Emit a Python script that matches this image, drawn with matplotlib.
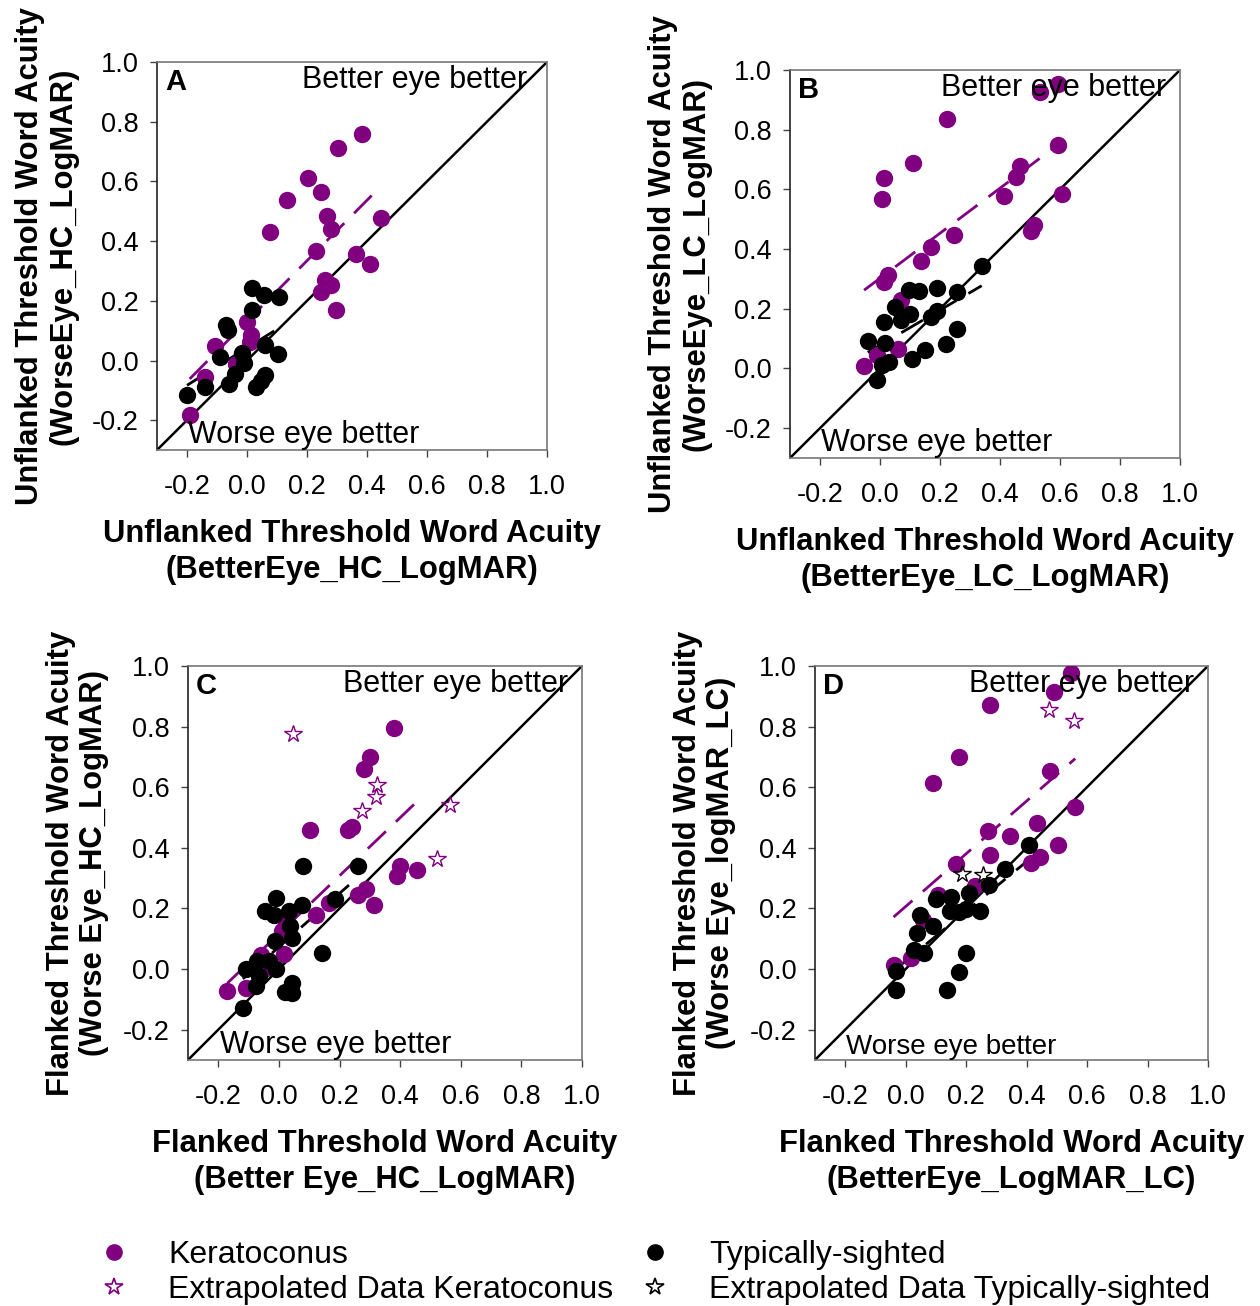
import numpy as np
import matplotlib.pyplot as plt
from matplotlib.lines import Line2D

plt.rcParams['font.family'] = ['Liberation Sans', 'DejaVu Sans']

PURPLE = '#800080'

# ---- Panel A: unflanked, high contrast ----
a_kc_x = [0.383, 0.303, 0.203, 0.248, 0.134, 0.266, 0.279, 0.448, 0.077, 0.230, 0.364,
          0.410, 0.259, 0.279, 0.248, 0.298, 0.001, 0.014, -0.106, 0.009, -0.036, -0.141, -0.191]
a_kc_y = [0.758, 0.713, 0.611, 0.563, 0.537, 0.483, 0.442, 0.476, 0.429, 0.367, 0.356,
          0.324, 0.269, 0.254, 0.231, 0.170, 0.128, 0.086, 0.050, 0.061, -0.011, -0.056, -0.181]
a_ts_x = [0.018, 0.057, 0.106, 0.018, -0.069, -0.063, 0.059, 0.103, -0.089, -0.017, -0.010,
          -0.039, -0.061, 0.059, 0.046, 0.029, -0.139, -0.200]
a_ts_y = [0.244, 0.220, 0.213, 0.170, 0.120, 0.102, 0.053, 0.022, 0.013, 0.026, -0.008,
          -0.044, -0.078, -0.048, -0.070, -0.089, -0.089, -0.117]

# ---- Panel B: unflanked, low contrast ----
b_kc_x = [0.592, 0.533, 0.224, 0.592, 0.111, 0.467, 0.014, 0.453, 0.008, 0.414, 0.606,
          0.514, 0.502, 0.248, 0.169, 0.137, 0.028, 0.014, 0.070, 0.061, -0.011, -0.053]
b_kc_y = [0.953, 0.926, 0.837, 0.748, 0.687, 0.680, 0.637, 0.642, 0.567, 0.579, 0.583,
          0.481, 0.459, 0.448, 0.406, 0.359, 0.312, 0.290, 0.231, 0.064, 0.046, 0.009]
b_ts_x = [0.339, 0.097, 0.130, 0.189, 0.258, 0.050, 0.100, 0.070, 0.014, 0.169, 0.189,
          0.258, 0.219, 0.150, 0.106, -0.041, 0.017, 0.031, 0.008, -0.011]
b_ts_y = [0.342, 0.262, 0.259, 0.270, 0.257, 0.206, 0.183, 0.161, 0.156, 0.172, 0.192,
          0.131, 0.081, 0.062, 0.033, 0.092, 0.084, 0.022, 0.011, -0.039]

# ---- Panel C: flanked, high contrast ----
c_kc_x = [0.379, 0.300, 0.280, 0.104, 0.227, 0.242, 0.401, 0.454, 0.390, 0.286, 0.262,
          0.313, 0.165, 0.121, 0.022, 0.011, 0.016, -0.060, -0.044, -0.110, -0.170]
c_kc_y = [0.795, 0.699, 0.660, 0.459, 0.459, 0.470, 0.341, 0.327, 0.308, 0.265, 0.245,
          0.212, 0.218, 0.179, 0.152, 0.124, 0.049, 0.047, 0.003, -0.063, -0.071]
c_kc_ex_x = [0.047, 0.324, 0.321, 0.273, 0.566, 0.522]
c_kc_ex_y = [0.776, 0.608, 0.567, 0.520, 0.542, 0.363]
c_ts_x = [0.080, 0.262, -0.011, 0.185, 0.077, -0.047, -0.016, 0.033, 0.038, 0.042, -0.013,
          0.141, -0.071, -0.033, -0.009, -0.108, -0.066, -0.077, 0.042, 0.020, 0.044, -0.119]
c_ts_y = [0.341, 0.341, 0.234, 0.231, 0.212, 0.190, 0.179, 0.193, 0.141, 0.102, 0.093,
          0.053, 0.025, 0.025, 0.000, 0.000, -0.024, -0.057, -0.046, -0.077, -0.079, -0.129]

# ---- Panel D: flanked, low contrast ----
d_kc_x = [0.547, 0.492, 0.279, 0.178, 0.091, 0.476, 0.561, 0.433, 0.274, 0.346, 0.504,
          0.279, 0.444, 0.414, 0.165, 0.107, 0.230, 0.058, 0.018, -0.040]
d_kc_y = [0.978, 0.915, 0.871, 0.698, 0.613, 0.652, 0.534, 0.481, 0.454, 0.440, 0.408,
          0.377, 0.369, 0.349, 0.347, 0.245, 0.273, 0.163, 0.038, 0.014]
d_kc_ex_x = [0.474, 0.556]
d_kc_ex_y = [0.855, 0.819]
d_ts_x = [0.408, 0.329, 0.277, 0.209, 0.151, 0.099, 0.246, 0.146, 0.176, 0.200, 0.047,
          0.089, 0.038, 0.029, 0.061, 0.198, -0.032, 0.178, -0.032, 0.138]
d_ts_y = [0.410, 0.330, 0.276, 0.251, 0.237, 0.231, 0.190, 0.190, 0.188, 0.198, 0.179,
          0.141, 0.119, 0.064, 0.053, 0.053, -0.008, -0.010, -0.070, -0.068]
d_ts_ex_x = [0.186, 0.257]
d_ts_ex_y = [0.314, 0.311]

ticks = [-0.2, 0.0, 0.2, 0.4, 0.6, 0.8, 1.0]
tick_labels = ['-0.2', '0.0', '0.2', '0.4', '0.6', '0.8', '1.0']

fig = plt.figure(figsize=(12.6, 13.06), dpi=100)


def fit_line(ax, x, y, color):
    x = np.asarray(x)
    y = np.asarray(y)
    m, b = np.polyfit(x, y, 1)
    xs = np.array([x.min(), x.max()])
    ax.plot(xs, m * xs + b, color=color, lw=2, dashes=(9, 5), zorder=2)


def panel(rect, letter, kc, ts, kc_ex=None, ts_ex=None, xlabel='', ylabel='',
          note_size=22, better_x=0.965):
    ax = fig.add_axes(rect)
    ax.set_xlim(-0.3, 1.0)
    ax.set_ylim(-0.3, 1.0)
    ax.plot([-0.3, 1.0], [-0.3, 1.0], color='black', lw=1.8, zorder=1)
    ax.plot(kc[0], kc[1], 'o', color=PURPLE, ms=12.5, mec='none', zorder=3)
    ax.plot(ts[0], ts[1], 'o', color='black', ms=12.5, mec='none', zorder=4)
    if kc_ex is not None:
        ax.plot(kc_ex[0], kc_ex[1], '*', mfc='none', mec=PURPLE, ms=13, mew=1, zorder=5)
    if ts_ex is not None:
        ax.plot(ts_ex[0], ts_ex[1], '*', mfc='none', mec='black', ms=13, mew=1, zorder=5)
    fit_line(ax, kc[0], kc[1], PURPLE)
    fit_line(ax, ts[0], ts[1], 'black')
    ax.set_xticks(ticks)
    ax.set_xticklabels(tick_labels)
    ax.set_yticks(ticks)
    ax.set_yticklabels(tick_labels)
    ax.tick_params(direction='out', length=5, width=1, labelsize=19.5, colors='#444444',
                   labelcolor='black')
    ax.tick_params(axis='x', pad=12)
    ax.tick_params(axis='y', pad=8)
    for s in ax.spines.values():
        s.set_color('#777777')
        s.set_linewidth(1.2)
    ax.spines['left'].set_color('#222222')
    ax.text(0.02, 0.985, letter, transform=ax.transAxes, fontsize=21, fontweight='bold',
            va='top', ha='left')
    ax.text(better_x, 0.992, 'Better eye better', transform=ax.transAxes, fontsize=22,
            va='top', ha='right')
    ax.text(0.08, 0.0, 'Worse eye better', transform=ax.transAxes, fontsize=note_size,
            va='bottom', ha='left')
    ax.set_xlabel(xlabel, fontsize=22.3, fontweight='bold', labelpad=14, linespacing=1.25)
    ax.set_ylabel(ylabel, fontsize=22.3, fontweight='bold', labelpad=10, linespacing=1.12)
    return ax


panel([0.1246, 0.6554, 0.3095, 0.2971], 'A', (a_kc_x, a_kc_y), (a_ts_x, a_ts_y),
      better_x=0.95,
      xlabel='Unflanked Threshold Word Acuity\n(BetterEye_HC_LogMAR)',
      ylabel='Unflanked Threshold Word Acuity\n(WorseEye_HC_LogMAR)')
panel([0.627, 0.6493, 0.3095, 0.2971], 'B', (b_kc_x, b_kc_y), (b_ts_x, b_ts_y),
      xlabel='Unflanked Threshold Word Acuity\n(BetterEye_LC_LogMAR)',
      ylabel='Unflanked Threshold Word Acuity\n(WorseEye_LC_LogMAR)')
panel([0.1492, 0.1884, 0.3127, 0.3017], 'C', (c_kc_x, c_kc_y), (c_ts_x, c_ts_y),
      kc_ex=(c_kc_ex_x, c_kc_ex_y),
      xlabel='Flanked Threshold Word Acuity\n(Better Eye_HC_LogMAR)',
      ylabel='Flanked Threshold Word Acuity\n(Worse Eye_HC_LogMAR)')
panel([0.6468, 0.1884, 0.3119, 0.3017], 'D', (d_kc_x, d_kc_y), (d_ts_x, d_ts_y),
      kc_ex=(d_kc_ex_x, d_kc_ex_y), ts_ex=(d_ts_ex_x, d_ts_ex_y), note_size=20,
      xlabel='Flanked Threshold Word Acuity\n(BetterEye_LogMAR_LC)',
      ylabel='Flanked Threshold Word Acuity\n(Worse Eye_logMAR_LC)')

handles = [
    Line2D([], [], ls='none', marker='o', color=PURPLE, ms=11),
    Line2D([], [], ls='none', marker='*', mfc='none', mec=PURPLE, ms=13, mew=1.2),
    Line2D([], [], ls='none', marker='o', color='black', ms=11),
    Line2D([], [], ls='none', marker='*', mfc='none', mec='black', ms=13, mew=1.2),
]
labels = ['Keratoconus', 'Extrapolated Data Keratoconus',
          'Typically-sighted', 'Extrapolated Data Typically-sighted']
fig.legend(handles, labels, loc='upper left', bbox_to_anchor=(0.065, 0.0625), ncol=2,
           frameon=False, fontsize=23, handlelength=1.0, handletextpad=1.2,
           columnspacing=0.8, labelspacing=0.15, borderpad=0)

fig.savefig('out.png', dpi=100)
